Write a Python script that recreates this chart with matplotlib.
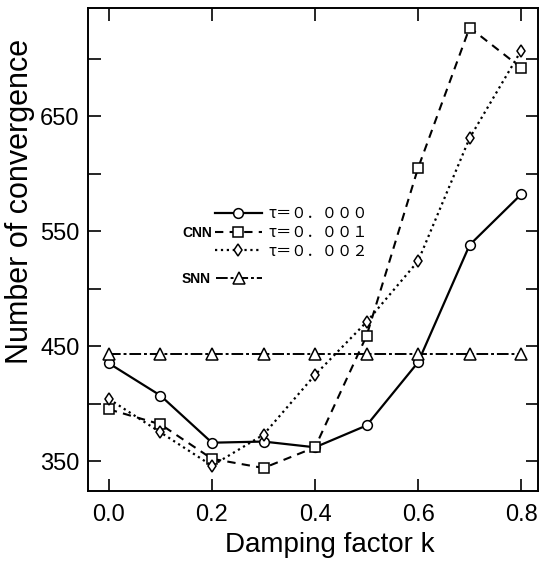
import numpy as np
import matplotlib
matplotlib.use('Agg')
import matplotlib.pyplot as plt
from matplotlib.ticker import MultipleLocator

plt.rcParams['font.family'] = ['Liberation Sans', 'DejaVu Sans']

# damping factor k and number of convergence
k = [0.0, 0.1, 0.2, 0.3, 0.4, 0.5, 0.6, 0.7, 0.8]
cnn_tau0 = [435, 407, 366, 367, 362, 381, 436, 538, 582]
cnn_tau1 = [395, 382, 352, 344, 362, 459, 605, 727, 692]
cnn_tau2 = [404, 375, 346, 373, 425, 471, 524, 631, 707]
snn = [443, 443, 443, 443, 443, 443, 443, 443, 443]

labels = ['τ＝０．０００', 'τ＝０．００１', 'τ＝０．００２']

fig = plt.figure(figsize=(5.42, 5.72), dpi=100)
ax = fig.add_axes([0.162, 0.1416, 0.831, 0.8444])

mk = dict(mfc='white', mec='black', color='black')
l0, = ax.plot(k, cnn_tau0, '-', marker='o', ms=7, lw=1.6, mew=1.1, label=labels[0], **mk)
l1, = ax.plot(k, cnn_tau1, '--', marker='s', ms=7, lw=1.5, mew=1.1, label=labels[1],
              dashes=(4, 3), **mk)
l2, = ax.plot(k, cnn_tau2, ':', marker='d', ms=6, lw=1.6, mew=1.1, label=labels[2], **mk)
l3, = ax.plot(k, snn, marker='^', ms=9, lw=1.4, mew=1.1, label='SNN',
              dashes=(6, 1.5, 1.5, 1.5), **mk)

ax.set_xlim(-0.041, 0.833)
ax.set_ylim(324, 744)
ax.yaxis.set_minor_locator(MultipleLocator(50))
ax.set_xticks([0.0, 0.2, 0.4, 0.6, 0.8])
ax.set_xticklabels(['0.0', '0.2', '0.4', '0.6', '0.8'])
ax.set_yticks([350, 450, 550, 650])

ax.tick_params(which='both', direction='in', top=True, right=True,
               length=9, width=1.2, labelsize=17)
ax.tick_params(axis='x', pad=9)
ax.tick_params(axis='y', pad=6)
for s in ax.spines.values():
    s.set_linewidth(1.4)

ax.set_xlabel('Damping factor k', fontsize=20)
ax.set_ylabel('Number of convergence', fontsize=22)
ax.xaxis.set_label_coords(0.538, -0.085)
ax.yaxis.set_label_coords(-0.118, 0.6)

leg1 = ax.legend(handles=[l0, l1, l2], loc='upper left', bbox_to_anchor=(0.282, 0.592),
                 frameon=False, handlelength=3.1, handletextpad=0.4,
                 labelspacing=0.12, borderpad=0, borderaxespad=0,
                 prop={'family': 'Noto Sans CJK JP', 'size': 11})
ax.add_artist(leg1)
ax.legend(handles=[l3], loc='upper left', bbox_to_anchor=(0.209, 0.454),
          frameon=False, markerfirst=False, handlelength=3.3, handletextpad=0.4,
          borderpad=0, borderaxespad=0,
          prop={'family': 'Liberation Sans', 'size': 10, 'weight': 'bold'})
ax.text(0.209, 0.534, 'CNN', transform=ax.transAxes, fontsize=10,
        fontweight='bold', va='center', ha='left')

fig.savefig('out.png', dpi=100)
